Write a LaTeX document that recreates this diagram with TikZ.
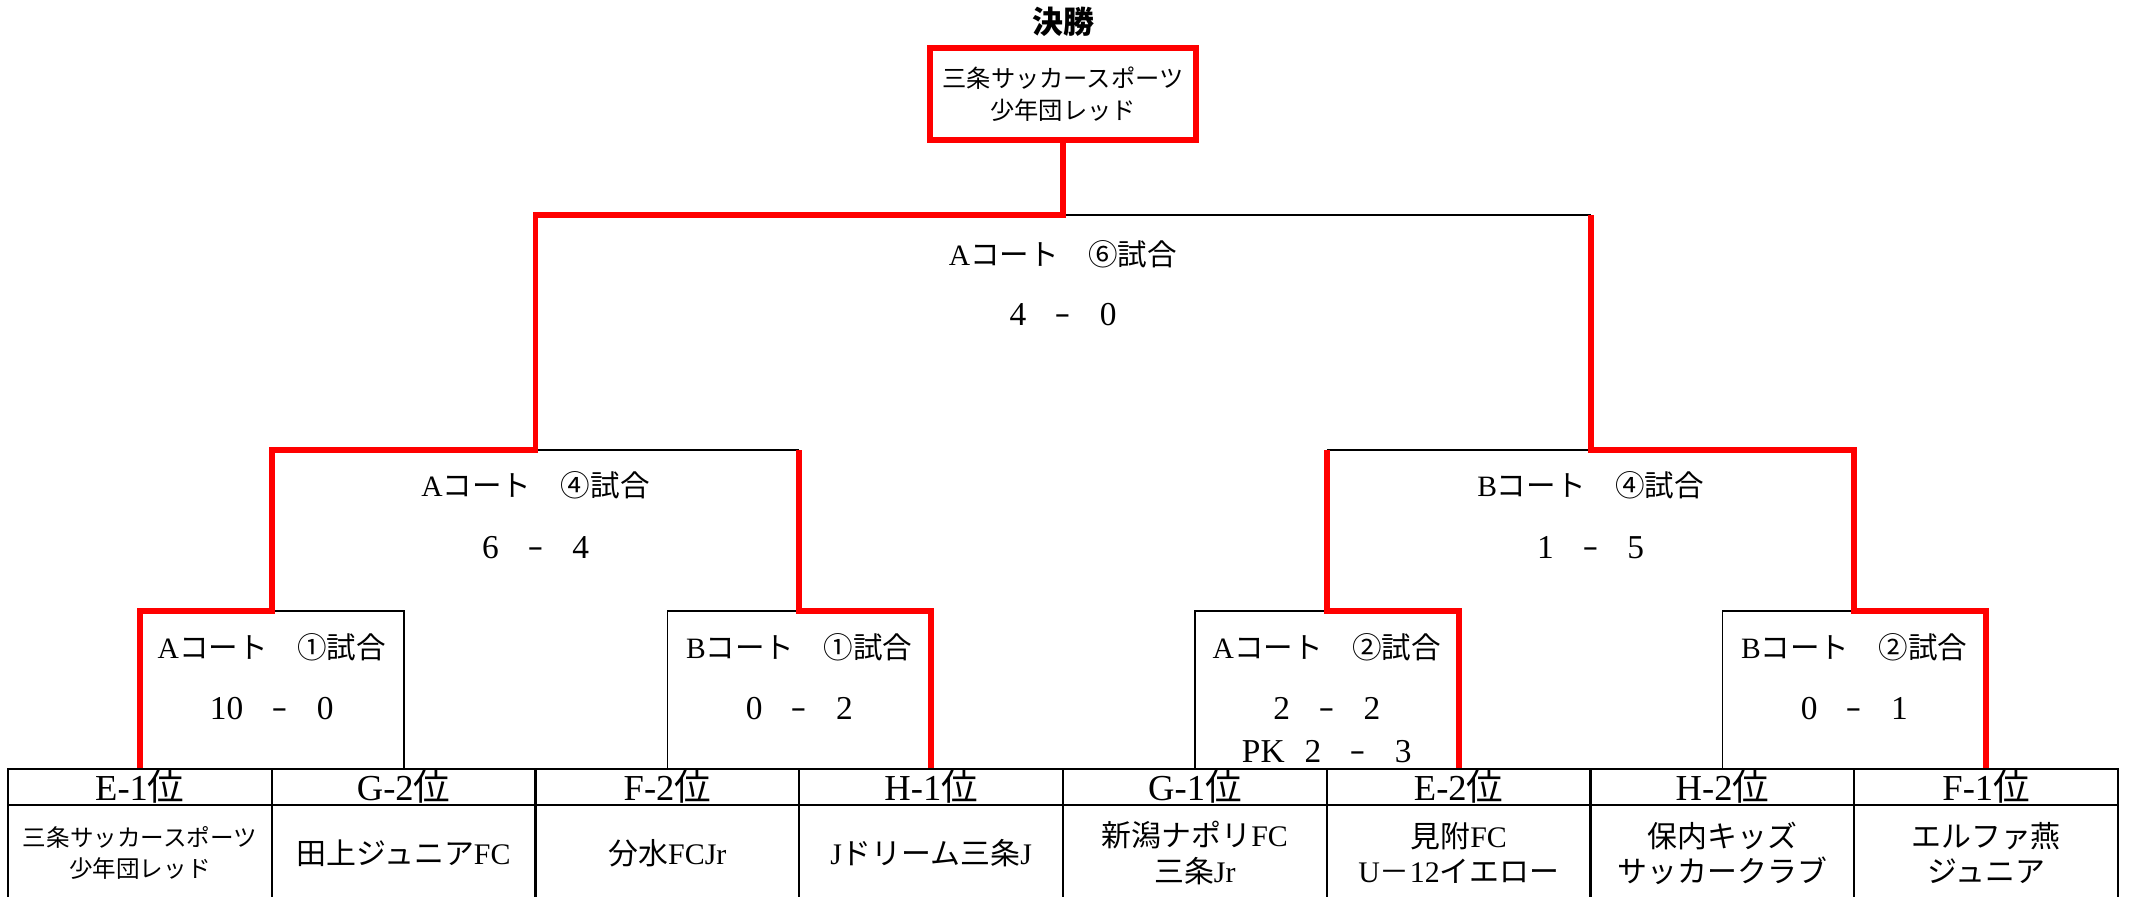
\documentclass[tikz,border=0pt]{standalone}
\usepackage{fontspec}
\setmainfont{Liberation Serif}
\newfontfamily\jp{Noto Sans CJK JP}
\usepackage{tikz}

\newcommand\score[2]{#1\hspace{0.85em}\raisebox{-0.08em}{\scalebox{0.5}[1]{\jp －}}\hspace{0.85em}#2}

\tikzset{
  win/.style={red, line width=1.7pt},
  lose/.style={black, line width=0.5pt},
  cell/.style={draw, line width=0.6pt, minimum width=2.6375cm, inner sep=0pt, align=center},
  rank/.style={cell, minimum height=0.36cm, font=\fontsize{10.4}{12}\selectfont},
  team/.style={cell, minimum height=0.96cm, font=\fontsize{8.5}{10}\selectfont},
  small/.style={font=\fontsize{6.7}{8.8}\selectfont},
  game/.style={inner sep=0pt, font=\fontsize{8.4}{10}\selectfont},
  pts/.style={inner sep=0pt, font=\fontsize{9.5}{11}\selectfont},
}

\begin{document}
\begin{tikzpicture}[x=0.01cm, y=-0.01cm]
    \useasboundingbox (0,0) rectangle (2131,896);

    % title and final box
    \node[font=\jp\bfseries\fontsize{8.8}{10}\selectfont] (title) at (1063,22) {決勝};
    \node[draw=red, line width=1.7pt, minimum width=2.65cm, minimum height=0.92cm, inner sep=0pt,
          align=center, font=\jp\fontsize{6.9}{9}\selectfont] (final) at (1063,94) {三条サッカースポーツ\\少年団レッド};

    % table
    \node[rank] (h1) at (139.875,787) {E-1{\jp 位}};
    \node[rank] (h2) at (403.625,787) {G-2{\jp 位}};
    \node[rank] (h3) at (667.375,787) {F-2{\jp 位}};
    \node[rank] (h4) at (931.125,787) {H-1{\jp 位}};
    \node[rank] (h5) at (1194.875,787) {G-1{\jp 位}};
    \node[rank] (h6) at (1458.625,787) {E-2{\jp 位}};
    \node[rank] (h7) at (1722.375,787) {H-2{\jp 位}};
    \node[rank] (h8) at (1986.125,787) {F-1{\jp 位}};

    \node[team, small] (t1) at (139.875,853) {{\jp 三条サッカースポーツ}\\{\jp 少年団レッド}};
    \node[team] (t2) at (403.625,853) {{\jp 田上ジュニア}FC};
    \node[team] (t3) at (667.375,853) {{\jp 分水}FCJr};
    \node[team] (t4) at (931.125,853) {J{\jp ドリーム三条}J};
    \node[team] (t5) at (1194.875,853) {{\jp 新潟ナポリ}FC\\{\jp 三条}Jr};
    \node[team] (t6) at (1458.625,853) {{\jp 見附}FC\\U{\jp －}12{\jp イエロー}};
    \node[team] (t7) at (1722.375,853) {{\jp 保内キッズ}\\{\jp サッカークラブ}};
    \node[team] (t8) at (1986.125,853) {{\jp エルファ燕}\\{\jp ジュニア}};

    % junctions
    \coordinate (g1) at (271.75,611);
    \coordinate (g2) at (799.25,611);
    \coordinate (g3) at (1326.75,611);
    \coordinate (g4) at (1854.25,611);
    \coordinate (g5) at (535.5,450);
    \coordinate (g6) at (1590.5,450);
    \coordinate (g7) at (1063,215);

    % losing sides
    \draw[lose] (h2.north) |- (g1);
    \draw[lose] (h3.north) |- (g2);
    \draw[lose] (h5.north) |- (g3);
    \draw[lose] (h7.north) |- (g4);
    \draw[lose] (g5) -- (g5 -| g2);
    \draw[lose] (g3 |- g6) -- (g6);
    \draw[lose] (g7) -- (g7 -| g6);

    % winning sides
    \draw[win] (h1.north) |- (g1) |- (g5) |- (g7) -- (final.south);
    \draw[win] (h4.north) |- (g2) -- (g2 |- g5);
    \draw[win] (h6.north) |- (g3) -- (g3 |- g6);
    \draw[win] (h8.north) |- (g4) |- (g6) -- (g6 |- g7);

    % match labels and scores
    \node[game] (a7) at (1063,254) {A{\jp コート　⑥試合}};
    \node[pts] (s7) at (1063,316) {\score{4}{0}};
    \node[game] (a5) at (535.5,485) {A{\jp コート　④試合}};
    \node[pts] (s5) at (535.5,549) {\score{6}{4}};
    \node[game] (a6) at (1590.5,485) {B{\jp コート　④試合}};
    \node[pts] (s6) at (1590.5,549) {\score{1}{5}};
    \node[game] (a1) at (271.75,647) {A{\jp コート　①試合}};
    \node[pts] (s1) at (271.75,710) {\score{10}{0}};
    \node[game] (a2) at (799.25,647) {B{\jp コート　①試合}};
    \node[pts] (s2) at (799.25,710) {\score{0}{2}};
    \node[game] (a3) at (1326.75,647) {A{\jp コート　②試合}};
    \node[pts] (s3) at (1326.75,710) {\score{2}{2}};
    \node[pts] (p3) at (1326.75,753) {PK\hspace{0.6em}\score{2}{3}};
    \node[game] (a4) at (1854.25,647) {B{\jp コート　②試合}};
    \node[pts] (s4) at (1854.25,710) {\score{0}{1}};
\end{tikzpicture}
\end{document}
